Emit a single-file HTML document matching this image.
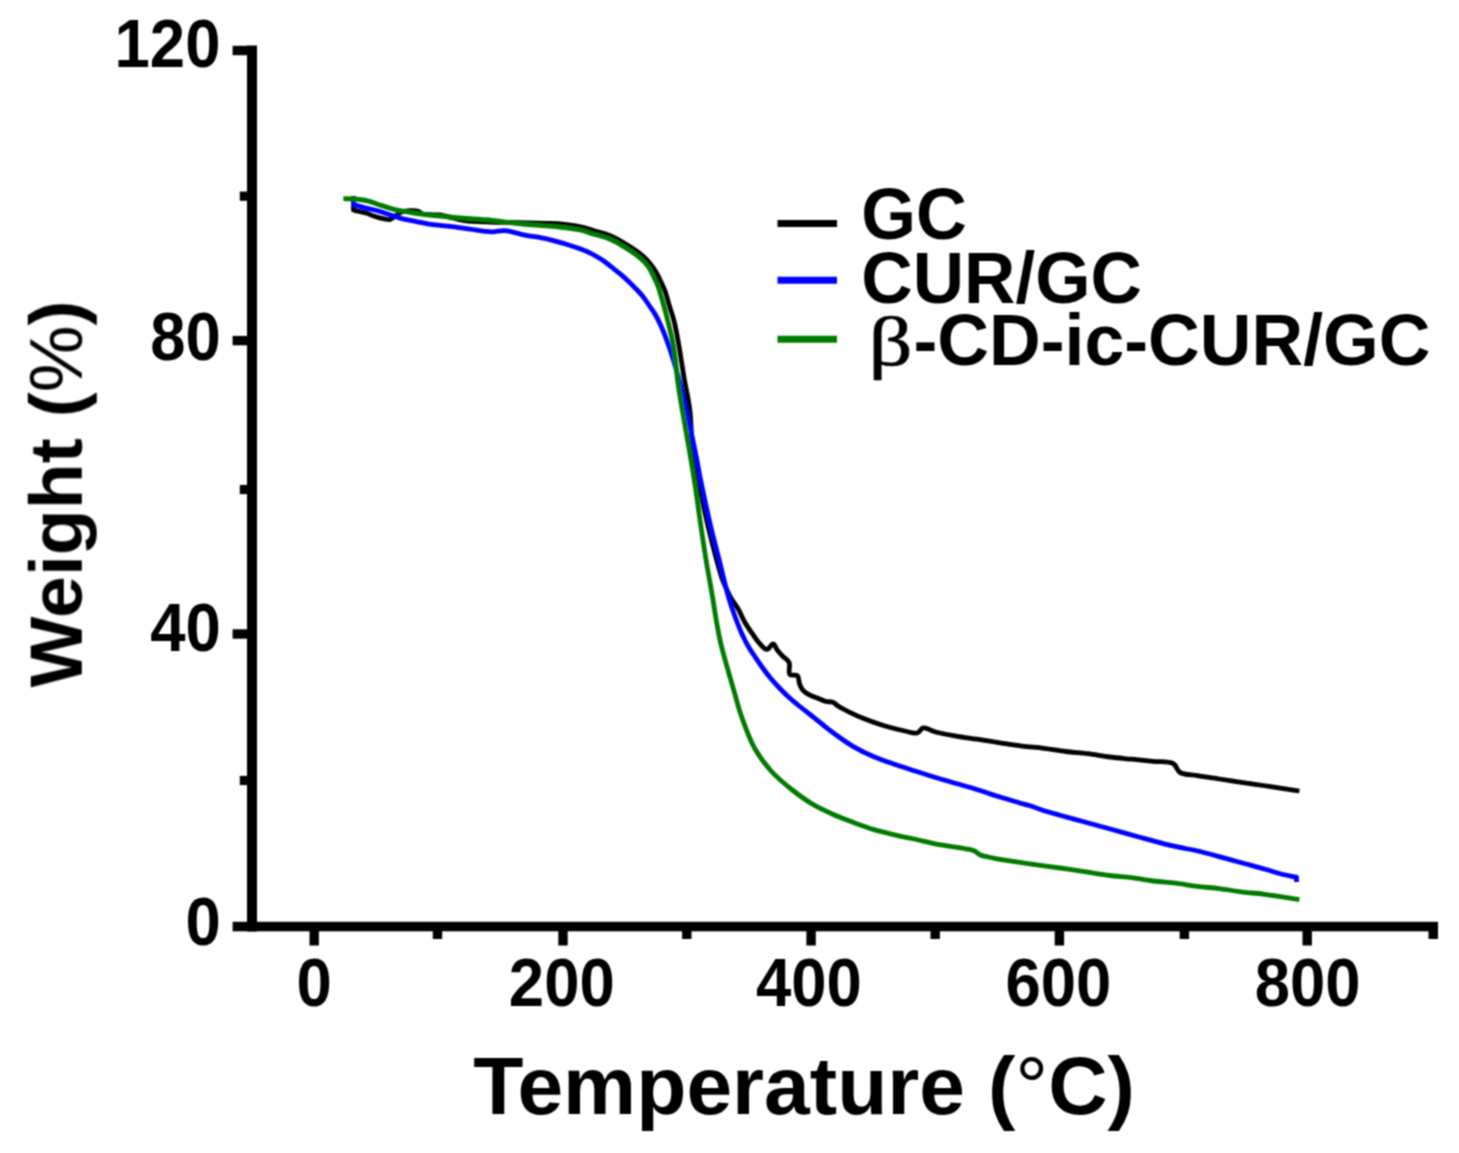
<!DOCTYPE html>
<html><head><meta charset="utf-8"><style>
html,body{margin:0;padding:0;background:#fff;width:1459px;height:1153px;overflow:hidden}
svg{display:block}
text{font-family:"Liberation Sans",sans-serif;font-weight:bold;fill:#000}
</style></head><body>
<svg width="1459" height="1153" viewBox="0 0 1459 1153">
<defs><filter id="bl" x="0" y="0" width="1459" height="1153" filterUnits="userSpaceOnUse"><feConvolveMatrix order="3" kernelMatrix="1 2 1 2 4 2 1 2 1" divisor="16" edgeMode="duplicate"/></filter></defs>
<rect width="1459" height="1153" fill="#fff"/>
<g filter="url(#bl)">
<g fill="none" stroke-width="4.8" stroke-linejoin="round" stroke-linecap="butt">
<path stroke="#000" d="M353.50,196.00 L353.50,210.00 C354.67,210.33 355.56,210.63 357.00,211.00 C359.30,211.58 363.09,212.12 366.00,213.00 C368.86,213.86 371.36,215.25 374.30,216.20 C377.50,217.24 381.60,218.36 384.50,218.90 C386.60,219.29 388.09,219.98 390.00,219.50 C392.53,218.86 395.35,215.46 398.00,214.00 C400.35,212.71 402.21,211.52 405.00,211.00 C408.76,210.30 415.90,210.51 418.80,211.50 C420.35,212.03 420.38,213.22 422.00,213.80 C425.47,215.05 433.57,214.07 440.00,215.00 C447.60,216.10 456.29,219.33 464.60,220.50 C472.95,221.67 481.65,221.67 490.00,222.00 C498.11,222.32 505.36,222.31 514.00,222.50 C524.13,222.73 538.95,223.06 547.00,223.30 C551.65,223.44 553.69,223.32 558.00,223.70 C564.20,224.25 573.98,225.46 580.60,226.90 C585.93,228.06 590.07,229.70 594.80,231.10 C599.53,232.50 604.35,233.45 609.00,235.30 C613.82,237.22 618.54,239.82 623.20,242.50 C628.01,245.27 633.45,248.77 637.40,251.70 C640.47,253.98 642.82,255.96 645.20,258.30 C647.50,260.57 649.59,263.01 651.50,265.50 C653.35,267.92 654.95,270.33 656.50,273.00 C658.13,275.82 659.54,278.86 661.00,282.00 C662.55,285.34 664.19,288.82 665.50,292.50 C666.88,296.40 667.70,300.44 669.00,304.80 C670.49,309.79 672.53,315.08 674.00,320.80 C675.65,327.24 676.93,334.65 678.20,341.60 C679.47,348.55 680.52,355.86 681.60,362.50 C682.58,368.54 683.28,373.26 684.40,379.80 C685.88,388.42 688.46,398.92 689.80,409.70 C691.35,422.21 690.95,437.55 692.60,450.50 C694.12,462.45 696.59,472.82 699.00,484.70 C701.64,497.72 704.84,512.52 707.90,525.50 C710.72,537.43 713.88,549.80 716.60,559.70 C718.71,567.37 720.58,574.47 722.60,580.00 C724.05,583.97 725.48,586.77 727.00,590.00 C728.45,593.10 729.74,595.99 731.50,599.00 C733.42,602.28 736.07,605.24 738.20,608.90 C740.63,613.07 742.66,618.57 745.10,622.80 C747.29,626.59 749.56,629.74 752.00,633.20 C754.52,636.78 757.24,641.06 760.00,643.90 C762.24,646.21 764.67,649.45 766.90,649.40 C769.07,649.35 771.43,643.66 773.20,643.90 C774.86,644.13 775.75,648.08 777.30,650.10 C778.95,652.25 780.95,654.34 782.90,656.40 C784.88,658.50 787.90,659.92 789.10,662.60 C790.50,665.71 787.96,672.32 789.80,674.40 C791.30,676.09 795.86,674.27 797.50,675.80 C799.21,677.40 798.62,681.58 799.60,684.10 C800.50,686.41 801.38,688.60 803.00,690.40 C804.76,692.36 807.43,693.84 810.00,695.20 C812.74,696.65 816.20,697.59 819.00,698.70 C821.46,699.68 823.55,700.92 825.90,701.50 C828.19,702.07 830.81,701.39 832.90,702.20 C834.97,703.00 836.19,704.90 838.40,706.30 C841.36,708.18 845.38,710.18 849.30,712.10 C853.73,714.28 858.43,716.49 863.70,718.60 C869.88,721.08 877.31,723.73 884.20,725.80 C891.01,727.85 898.79,729.76 904.80,731.00 C909.40,731.95 913.85,733.88 917.10,733.00 C919.71,732.30 920.72,728.38 923.30,727.90 C926.58,727.29 930.93,730.76 935.60,732.00 C941.54,733.58 949.32,734.90 956.20,736.10 C963.05,737.30 969.73,738.12 976.80,739.20 C984.30,740.35 992.38,741.63 1000.00,742.80 C1007.40,743.93 1014.58,745.18 1021.90,746.10 C1029.21,747.02 1036.59,747.40 1043.90,748.30 C1051.22,749.20 1058.49,750.60 1065.80,751.50 C1073.09,752.40 1080.40,752.79 1087.70,753.70 C1095.04,754.62 1102.36,756.08 1109.70,757.00 C1117.00,757.91 1124.30,758.47 1131.60,759.20 C1138.90,759.93 1146.39,760.65 1153.50,761.40 C1160.27,762.12 1168.79,761.02 1173.30,763.60 C1176.65,765.52 1176.65,770.38 1179.90,772.40 C1184.03,774.97 1191.23,774.65 1197.40,775.70 C1204.28,776.87 1211.99,777.90 1219.30,779.00 C1226.62,780.10 1233.97,781.22 1241.30,782.30 C1248.61,783.38 1255.90,784.42 1263.20,785.50 C1270.50,786.58 1278.58,787.81 1285.10,788.80 C1290.37,789.60 1294.63,790.27 1299.40,791.00"/>
<path stroke="#0000ff" d="M351.70,203.50 C353.47,204.20 354.91,204.92 357.00,205.60 C359.86,206.54 363.69,207.36 367.40,208.30 C371.65,209.38 376.88,210.46 381.10,211.70 C384.80,212.79 387.96,214.05 391.40,215.20 C394.83,216.35 397.99,217.63 401.70,218.60 C405.91,219.71 410.83,220.38 415.40,221.30 C419.97,222.22 424.78,223.40 429.10,224.10 C432.93,224.72 436.42,225.03 440.00,225.40 C443.45,225.76 446.25,225.85 450.20,226.30 C455.72,226.93 463.23,228.20 470.00,229.10 C477.11,230.04 485.51,231.67 491.90,231.80 C496.85,231.90 500.29,230.37 505.10,230.70 C511.04,231.11 518.04,233.76 524.80,235.10 C531.91,236.51 539.52,237.26 546.80,238.90 C554.15,240.55 562.61,243.16 568.70,245.00 C573.10,246.33 576.71,247.50 580.00,248.70 C582.60,249.65 584.61,250.47 586.90,251.50 C589.25,252.56 591.60,253.74 593.90,255.00 C596.23,256.27 598.52,257.63 600.80,259.10 C603.15,260.62 605.51,262.27 607.80,264.00 C610.14,265.77 612.40,267.75 614.70,269.60 C617.00,271.45 619.32,273.17 621.60,275.10 C623.96,277.10 626.30,279.22 628.60,281.40 C630.94,283.62 633.22,285.92 635.50,288.30 C637.85,290.75 640.34,293.21 642.50,295.90 C644.68,298.61 646.47,301.56 648.50,304.50 C650.63,307.58 652.95,310.51 655.00,314.00 C657.31,317.92 659.31,321.99 661.50,327.00 C664.35,333.52 667.58,342.32 670.20,350.00 C672.77,357.52 675.05,365.19 677.10,372.60 C679.06,379.68 680.52,386.15 682.30,393.50 C684.28,401.69 686.37,410.44 688.40,419.50 C690.61,429.37 692.85,439.90 695.00,450.50 C697.25,461.61 699.16,472.81 701.60,484.70 C704.28,497.72 707.45,512.52 710.50,525.50 C713.30,537.43 716.17,548.05 719.10,559.70 C722.16,571.86 725.51,586.72 728.50,597.00 C730.64,604.37 732.48,609.69 734.70,615.80 C736.86,621.74 739.16,627.79 741.60,633.20 C743.82,638.12 746.15,642.78 748.60,647.00 C750.81,650.81 753.22,654.10 755.50,657.50 C757.68,660.76 759.68,663.78 762.00,667.00 C764.49,670.44 767.27,674.18 770.00,677.50 C772.61,680.67 775.14,683.46 778.00,686.50 C781.10,689.79 784.60,693.37 788.00,696.50 C791.27,699.52 794.49,702.12 798.00,705.00 C801.79,708.11 806.00,711.33 810.00,714.50 C814.00,717.67 818.10,720.92 822.00,724.00 C825.69,726.91 828.56,729.39 832.80,732.50 C838.51,736.69 846.39,742.49 853.40,746.60 C860.13,750.54 867.06,753.82 874.00,756.80 C880.76,759.70 887.64,761.93 894.50,764.30 C901.34,766.66 908.24,768.80 915.10,771.00 C921.94,773.20 928.75,775.42 935.60,777.50 C942.45,779.58 949.33,781.50 956.20,783.50 C963.07,785.50 970.71,787.60 976.80,789.50 C981.70,791.03 985.90,792.58 990.00,793.90 C993.56,795.04 996.07,795.80 1000.00,797.00 C1005.64,798.72 1015.05,801.63 1020.60,803.20 C1024.33,804.26 1026.66,804.66 1030.00,805.70 C1033.92,806.92 1038.04,808.73 1042.60,810.20 C1047.91,811.91 1053.74,813.44 1060.00,815.20 C1067.33,817.27 1076.11,819.66 1083.90,821.80 C1091.36,823.85 1098.50,825.78 1105.80,827.80 C1113.10,829.82 1120.39,831.88 1127.70,833.90 C1135.02,835.92 1142.37,837.93 1149.70,839.90 C1157.00,841.86 1163.80,843.87 1171.60,845.70 C1180.42,847.77 1192.04,849.63 1200.00,851.50 C1205.84,852.87 1210.07,854.15 1215.10,855.50 C1220.14,856.85 1225.18,858.23 1230.20,859.60 C1235.21,860.96 1239.69,862.18 1245.20,863.70 C1251.99,865.57 1261.11,868.05 1267.90,870.00 C1273.45,871.60 1278.08,873.30 1283.00,874.50 C1287.60,875.62 1292.00,876.23 1296.50,877.10 L1296.50,882.00"/>
<path stroke="#007a00" d="M343.40,198.70 C346.83,198.80 350.03,198.71 353.70,199.00 C357.95,199.34 363.20,199.84 367.40,200.80 C371.12,201.65 374.27,203.07 377.70,204.20 C381.13,205.33 384.55,206.56 388.00,207.60 C391.42,208.63 394.86,209.65 398.30,210.40 C401.69,211.14 404.85,211.53 408.50,212.10 C412.73,212.76 417.33,213.46 422.20,214.10 C427.74,214.83 433.29,215.54 440.00,216.20 C448.70,217.06 460.78,217.87 470.00,218.60 C477.87,219.22 484.60,219.57 491.90,220.30 C499.23,221.03 506.57,222.18 513.90,223.00 C521.20,223.81 528.50,224.55 535.80,225.20 C543.10,225.85 550.38,226.11 557.70,226.90 C565.11,227.70 573.49,228.57 580.00,230.00 C585.23,231.15 589.26,232.82 593.90,234.20 C598.53,235.58 603.26,236.49 607.80,238.30 C612.50,240.17 617.06,242.69 621.60,245.30 C626.30,248.00 631.65,251.45 635.50,254.30 C638.46,256.49 640.77,258.40 643.00,260.60 C645.07,262.64 646.88,264.65 648.50,267.00 C650.20,269.46 651.45,272.21 652.90,275.10 C654.52,278.33 656.24,281.69 657.70,285.50 C659.38,289.88 660.67,294.72 662.20,300.00 C664.02,306.29 666.06,313.85 667.80,320.80 C669.53,327.72 671.28,334.63 672.60,341.60 C673.91,348.53 674.86,355.85 675.70,362.50 C676.46,368.53 676.65,373.26 677.50,379.80 C678.63,388.42 680.40,398.94 682.20,409.70 C684.31,422.37 687.28,437.93 689.50,451.00 C691.51,462.80 693.20,472.92 695.00,484.70 C696.98,497.64 698.89,512.50 700.80,525.50 C702.55,537.41 704.09,547.99 706.00,559.70 C708.03,572.12 710.79,586.61 712.70,598.00 C714.24,607.16 715.29,614.91 716.70,622.80 C718.00,630.05 719.06,636.16 720.80,643.60 C722.85,652.36 726.11,663.49 728.50,672.00 C730.46,678.98 732.05,684.30 734.00,691.00 C736.19,698.53 738.00,706.43 741.00,715.00 C744.60,725.30 749.26,738.63 754.70,748.40 C759.49,756.99 764.92,764.14 771.10,771.00 C777.26,777.83 784.66,783.90 791.70,789.50 C798.41,794.85 805.28,799.82 812.30,804.00 C818.99,807.99 825.89,811.11 832.80,814.20 C839.60,817.24 846.51,819.82 853.40,822.40 C860.24,824.96 867.10,827.52 874.00,829.60 C880.80,831.65 887.54,833.17 894.50,834.80 C901.66,836.48 909.62,837.99 916.40,839.50 C922.29,840.81 927.39,842.20 932.90,843.30 C938.36,844.39 943.82,845.18 949.30,846.10 C954.79,847.02 961.17,847.84 965.80,848.80 C969.21,849.50 972.11,849.86 974.60,851.00 C976.72,851.97 977.68,853.74 980.00,854.80 C983.33,856.32 988.53,857.12 993.20,858.10 C998.37,859.18 1003.81,859.96 1009.70,860.90 C1016.48,861.99 1023.82,863.09 1031.60,864.20 C1040.45,865.46 1050.60,866.66 1060.00,868.00 C1069.30,869.33 1079.00,870.89 1087.70,872.20 C1095.45,873.37 1102.36,874.58 1109.70,875.50 C1117.00,876.41 1124.31,876.79 1131.60,877.70 C1138.91,878.62 1146.18,880.08 1153.50,881.00 C1160.81,881.92 1168.19,882.30 1175.50,883.20 C1182.82,884.10 1190.09,885.50 1197.40,886.40 C1204.69,887.30 1212.00,887.69 1219.30,888.60 C1226.64,889.52 1233.96,890.98 1241.30,891.90 C1248.60,892.81 1255.91,893.19 1263.20,894.10 C1270.51,895.02 1278.58,896.41 1285.10,897.40 C1290.37,898.20 1294.63,898.87 1299.40,899.60"/>
</g>
<g fill="#000">
<rect x="247" y="45.5" width="10" height="886"/>
<rect x="232.6" y="921.8" width="1205.4" height="9.5"/>
<rect x="232.6" y="45.8" width="16" height="9.4"/>
<rect x="232.6" y="335.9" width="16" height="9.4"/>
<rect x="232.6" y="629.3" width="16" height="9.4"/>
<rect x="239.8" y="191.6" width="9" height="9.2"/>
<rect x="239.8" y="484.9" width="9" height="9.2"/>
<rect x="239.8" y="775.9" width="9" height="9.2"/>
<rect x="309.5" y="930" width="9.4" height="15.5"/>
<rect x="558.3" y="930" width="9.4" height="15.5"/>
<rect x="806.4" y="930" width="9.4" height="15.5"/>
<rect x="1054.7" y="930" width="9.4" height="15.5"/>
<rect x="1302.5" y="930" width="9.4" height="15.5"/>
<rect x="432.8" y="930" width="9.4" height="9"/>
<rect x="682.1" y="930" width="9.4" height="9"/>
<rect x="930.5" y="930" width="9.4" height="9"/>
<rect x="1179.7" y="930" width="9.4" height="9"/>
<rect x="1428.5" y="930" width="9.5" height="9"/>
</g>
<text font-size="67" transform="translate(114.54,66.75) scale(0.9480,1.0150)">120</text>
<text font-size="67" transform="translate(150.17,360.35) scale(0.9480,1.0150)">80</text>
<text font-size="67" transform="translate(150.15,651.14) scale(0.9480,1.0150)">40</text>
<text font-size="67" transform="translate(185.46,944.50) scale(0.9480,1.0150)">0</text>
<text font-size="67" transform="translate(296.41,1006.35) scale(0.9480,1.0150)">0</text>
<text font-size="67" transform="translate(508.84,1006.00) scale(0.9480,1.0150)">200</text>
<text font-size="67" transform="translate(755.96,1006.00) scale(0.9480,1.0150)">400</text>
<text font-size="67" transform="translate(1005.49,1006.00) scale(0.9480,1.0150)">600</text>
<text font-size="67" transform="translate(1254.74,1006.00) scale(0.9480,1.0150)">800</text>
<text font-size="74" transform="translate(81.96,687.50) rotate(-90) scale(1.0164,1.0029)">Weight (<tspan style="font-weight:normal">%</tspan>)</text>
<text font-size="82" transform="translate(473.30,1113.83) scale(1.0024,1.0039)">Temperature (<tspan style="font-weight:normal">°</tspan>C)</text>
<g stroke-width="7" fill="none">
<line x1="777.5" y1="223.5" x2="837" y2="223.5" stroke="#000"/>
<line x1="777.5" y1="280.2" x2="837" y2="280.2" stroke="#0000ff"/>
<line x1="777.5" y1="339.3" x2="837" y2="339.3" stroke="#007a00"/>
</g>
<text font-size="72" transform="translate(861.37,239.00) scale(0.9777,1.0020)">GC</text>
<text font-size="72" transform="translate(861.34,303.00) scale(0.9878,1)">CUR/GC</text>
<text font-size="72" transform="translate(868.49,365.34) scale(1.2033,0.9773)"><tspan style="font-family:'Liberation Serif';font-weight:normal;stroke:#000;stroke-width:0.7px">β</tspan></text>
<text font-size="72" transform="translate(913.52,364.60) scale(0.9944,1)">-CD-ic-CUR/GC</text>
</g>
</svg>
</body></html>
